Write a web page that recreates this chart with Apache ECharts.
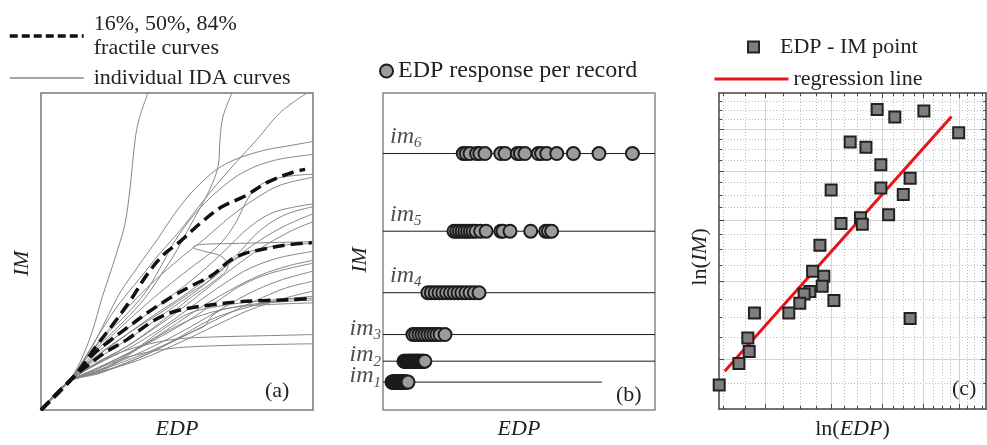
<!DOCTYPE html>
<html><head><meta charset="utf-8">
<script src="https://cdn.jsdelivr.net/npm/echarts@6/dist/echarts.min.js"></script>
<style>html,body{margin:0;padding:0;background:#fff}#c{width:987px;height:445px}</style>
</head><body><div id="c"></div><script>
const FONT = 'Liberation Serif';
const TXT = '#222';

// ---------- Panel (a): IDA curves (EDP and IM in arbitrary units 0-100)
const fractile16 = [[0,0],[12.5,10.9],[17.3,14.1],[23.5,18.1],[31.6,22.2],[40.1,27.5],[47.4,30.6],[54.8,32.2],[62.1,33.1],[72.0,34.1],[81.6,34.5],[91.5,34.8],[99.6,35.2]];
const fractile50 = [[0,0],[12.5,10.9],[18.7,17.2],[25.4,21.9],[31.6,25.9],[39.0,30.6],[48.5,35.9],[55.9,39.4],[62.9,42.5],[69.5,47.2],[75.0,49.4],[79.4,50.3],[89.0,51.9],[99.6,52.8]];
const fractile84 = [[0,0],[12.5,10.9],[19.9,19.7],[26.1,26.6],[32.7,34.4],[39.3,43.1],[45.2,49.1],[51.1,53.1],[58.4,58.8],[66.5,64.1],[75.0,67.5],[83.4,71.9],[92.6,75.0],[97.1,75.9]];
const idaCurves = [
 [[0,0],[9.9,8.75],[14.3,15.0],[18.7,24.4],[22.4,35.3],[25.4,43.1],[28.3,50.9],[30.9,58.8],[32.7,69.7],[34.6,85.3],[36.0,91.6],[39.3,100]],
 [[0,0],[9.9,8.75],[16.2,15.9],[23.5,22.2],[30.9,28.4],[38.2,35.3],[44.5,43.1],[49.3,49.4],[53.7,56.3],[57.3,61.9],[62.1,69.7],[65.1,76.9],[65.8,85.3],[66.9,92.5],[70.2,100]],
 [[0,0],[9.9,8.75],[16.2,16.6],[22.8,25.9],[29.0,33.8],[36.4,41.6],[43.7,49.4],[51.1,56.6],[57.3,63.4],[63.2,69.7],[72.0,78.4],[79.4,85.3],[87.9,93.8],[97.8,100]],
 [[0,0],[9.9,8.75],[15.1,15.0],[20.2,22.2],[24.6,29.7],[29.0,36.9],[35.7,45.3],[43.0,54.1],[50.4,63.4],[58.4,71.3],[67.6,77.5],[80.5,81.6],[91.5,83.4],[100,84.7]],
 [[0,0],[9.9,8.75],[16.2,15.9],[23.5,23.4],[30.9,29.7],[38.2,36.9],[43.7,44.7],[49.3,53.4],[56.6,61.9],[65.8,69.7],[75.0,75.3],[86.0,78.8],[100,80.6]],
 [[0,0],[9.9,8.75],[18.0,16.6],[27.2,24.4],[36.4,31.6],[45.6,38.4],[54.8,44.7],[62.1,49.4],[67.6,54.1],[72.0,59.7],[75.0,65.0],[78.7,69.7],[84.2,72.5],[91.5,73.8],[100,74.4]],
 [[0,0],[9.9,8.75],[17.3,17.2],[25.4,25.9],[33.5,33.8],[41.9,40.9],[51.1,47.8],[60.3,54.1],[69.5,60.9],[78.7,66.6],[87.9,70.9],[100,73.4]],
 [[0,0],[9.9,8.75],[18.0,15.9],[27.2,22.8],[38.2,29.7],[49.3,36.9],[58.4,43.1],[67.6,50.3],[76.8,57.8],[86.0,62.5],[100,65.0]],
 [[0,0],[9.9,8.75],[18.7,15.6],[29.0,22.2],[40.1,29.1],[51.1,35.3],[61.4,41.6],[71.3,48.4],[80.5,56.6],[89.7,61.6],[100,64.1]],
 [[0,0],[9.9,8.75],[18.7,15.0],[28.3,20.3],[38.2,25.9],[48.2,32.2],[58.4,38.4],[68.7,45.9],[78.7,52.5],[89.0,57.8],[100,61.9]],
 [[0,0],[9.9,8.75],[19.9,14.7],[30.9,19.7],[41.9,25.9],[51.1,31.6],[60.3,37.8],[69.5,44.1],[80.5,50.9],[91.5,56.3],[100,59.4]],
 [[0,0],[9.9,8.75],[19.9,14.4],[30.9,19.7],[43.7,27.5],[54.8,35.3],[64.0,40.9],[68.7,45.3],[66.5,48.4],[60.3,50.0],[55.9,51.3],[58.4,52.2],[69.5,52.5],[84.2,52.8],[100,53.1]],
 [[0,0],[9.9,8.75],[18.7,15.9],[27.2,21.3],[36.4,26.6],[45.6,31.6],[54.8,36.9],[62.1,40.9],[69.5,46.3],[76.8,50.0],[87.9,51.9],[100,52.5]],
 [[0,0],[9.9,8.75],[19.9,14.1],[32.7,19.7],[45.6,26.6],[56.6,33.4],[67.6,40.0],[76.8,44.7],[87.9,48.1],[100,50.0]],
 [[0,0],[9.9,8.75],[21.0,13.4],[34.6,19.1],[47.4,25.9],[58.4,32.2],[69.5,37.8],[80.5,42.5],[91.5,45.6],[100,47.2]],
 [[0,0],[9.9,8.75],[21.7,13.4],[36.4,19.7],[51.1,26.6],[64.0,33.8],[73.2,39.1],[84.2,43.1],[100,46.3]],
 [[0,0],[9.9,8.75],[21.7,12.8],[36.4,18.1],[51.1,24.4],[65.8,31.6],[76.8,36.9],[87.9,40.9],[100,43.8]],
 [[0,0],[9.9,8.75],[21.7,12.5],[36.4,17.2],[51.1,22.8],[65.8,29.1],[78.7,34.4],[89.7,38.4],[100,40.6]],
 [[0,0],[9.9,8.75],[21.7,11.9],[36.4,15.9],[51.1,21.3],[64.0,26.6],[76.8,31.6],[89.7,35.3],[100,37.5]],
 [[0,0],[9.9,8.75],[21.7,11.6],[36.4,16.6],[49.3,22.2],[62.1,28.4],[75.0,32.2],[87.9,34.7],[100,35.9]],
 [[0,0],[9.9,8.75],[22.4,12.8],[34.6,19.1],[45.6,25.9],[54.8,30.6],[65.8,32.8],[80.5,34.4],[100,35.3]],
 [[0,0],[9.9,8.75],[23.5,12.8],[36.4,19.7],[47.4,25.3],[58.4,29.7],[73.2,32.8],[87.9,34.1],[100,34.7]],
 [[0,0],[9.9,8.75],[21.7,11.9],[36.4,16.6],[49.3,21.9],[56.6,25.0],[60.3,26.6],[62.9,29.7],[67.6,31.9],[80.5,33.1],[100,33.8]],
 [[0,0],[9.9,8.75],[18.0,13.4],[29.0,18.1],[40.1,20.9],[51.1,22.5],[65.8,23.1],[80.5,23.4],[100,23.8]],
 [[0,0],[9.9,8.75],[18.0,11.9],[29.0,15.9],[40.1,18.4],[51.1,19.7],[65.8,20.3],[80.5,20.6],[100,20.9]]
];

// ---------- Panel (b): EDP response per record at each IM level (arbitrary units 0-100)
const imLevels = [8.8, 15.4, 23.8, 37.0, 56.4, 80.9];
const imLineEnd = [80.5, 100, 100, 100, 100, 100];
const imSub = ['1','2','3','4','5','6'];
const edpIm1 = [3.3,3.5,3.7,3.9,4.1,4.3,4.5,4.6,4.8,5.0,5.1,5.3,5.5,5.6,5.8,6.0,6.1,6.3,6.5,6.7,6.9,7.1,7.3,7.5,7.7,7.9,8.2,8.5,8.8,9.2];
const edpIm2 = [7.7,8.0,8.4,8.7,9.0,9.3,9.6,9.9,10.1,10.4,10.6,10.9,11.2,11.4,11.7,12.0,12.2,12.5,12.8,13.0,13.3,13.6,13.9,14.2,14.5,14.8,15.0,15.4];
const edpIm3 = [11.0,12.0,13.2,14.3,15.4,16.5,17.6,18.7,19.8,21.0,22.8];
const edpIm4 = [16.5,17.8,19.2,20.6,22.0,23.4,24.8,26.2,27.6,29.0,30.5,32.0,33.6,35.3];
const edpIm5 = [26.1,27.1,28.1,29.1,30.1,31.1,32.1,33.1,34.2,35.9,37.9,43.3,44.1,46.7,54.3,59.8,60.8,62.0];
const edpIm6 = [29.5,30.6,32.0,34.4,35.6,37.5,43.3,44.9,49.4,50.5,52.2,57.1,58.3,60.2,63.9,70.0,79.4,91.7];
const edpByLevel = [edpIm1, edpIm2, edpIm3, edpIm4, edpIm5, edpIm6];

// ---------- Panel (c): ln(EDP) - ln(IM) points and regression line
const lnEdp = [1.589,1.666,1.793,1.945,1.471,1.540,1.605,1.733,1.388,1.605,1.703,1.639,1.431,1.516,1.524,1.339,1.307,1.356,1.349,1.295,1.270,1.251,1.203,1.400,1.053,1.024,1.030,0.985,0.899,1.733];
const lnIm  = [2.019,1.991,2.013,1.933,1.899,1.880,1.815,1.766,1.722,1.730,1.706,1.631,1.599,1.620,1.596,1.519,1.423,1.405,1.368,1.349,1.340,1.306,1.270,1.316,1.270,1.178,1.128,1.084,1.005,1.249];
const regLnEdp = [0.923, 1.914];
const regLnIm  = [1.055, 1.993];
const gridMajor = [3, 4, 5, 6, 7];
const gridMinorX = [2.5,2.75,3.25,3.5,3.75,4.25,4.5,4.75,5.25,5.5,5.75,6.25,6.5,6.75,7.25,7.5,7.75];
const gridMinorY = [2.75,3.25,3.5,3.75,4.25,4.5,4.75,5.25,5.5,5.75,6.25,6.5,6.75,7.25,7.5,7.75];
const cEdpRange = [2.455, 7.88];
const cImRange = [2.5, 8];

const F_NAME = '16%, 50%, 84%\nfractile curves';
const IDA_NAME = 'individual IDA curves';
const L = Math.log;

const chart = echarts.init(document.getElementById('c'), null, {renderer: 'canvas'});

const nameStyle = (extra) => Object.assign({fontFamily: FONT, fontSize: 22, color: TXT, fontStyle: 'italic'}, extra || {});
const hiddenAxis = {axisLine: {show: false}, axisTick: {show: false}, axisLabel: {show: false}, splitLine: {show: false}};

const boxLine = {show: true, lineStyle: {color: '#444', width: 1.5}};
const tickStyle = {color: '#444', width: 1};
function cAxis(gi, pos, range, vals, len, main, split) {
  return {
    gridIndex: gi, type: 'value', position: pos, min: L(range[0]), max: L(range[1]),
    axisLine: main ? boxLine : {show: false},
    axisTick: {show: true, inside: true, length: len, customValues: vals.map(L), lineStyle: tickStyle},
    axisLabel: {show: false},
    splitLine: split ? {show: true, lineStyle: split} : {show: false}
  };
}
const majorSplit = {color: '#d4d4d4', width: 1};
const minorSplit = {color: '#bdbdbd', width: 1, type: [1, 2]};
const richLn = {n: {fontFamily: FONT, fontSize: 22, color: TXT}, i: {fontFamily: FONT, fontSize: 22, color: TXT, fontStyle: 'italic'}};

const xAxes = [
  Object.assign({gridIndex: 0, type: 'value', min: 0, max: 100, name: 'EDP', nameLocation: 'middle', nameGap: 8, nameTextStyle: nameStyle()}, hiddenAxis),
  Object.assign({gridIndex: 1, type: 'value', min: 0, max: 100, name: 'EDP', nameLocation: 'middle', nameGap: 8, nameTextStyle: nameStyle()}, hiddenAxis),
  Object.assign(cAxis(2, 'bottom', cEdpRange, gridMajor, 5, true, majorSplit), {
    name: '{n|ln(}{i|EDP}{n|)}', nameLocation: 'middle', nameGap: 9,
    nameTextStyle: {fontFamily: FONT, fontSize: 22, color: TXT, rich: richLn}
  }),
  cAxis(2, 'bottom', cEdpRange, gridMinorX, 3, false, minorSplit),
  cAxis(2, 'top', cEdpRange, gridMajor, 5, true, null),
  cAxis(2, 'top', cEdpRange, gridMinorX, 3, false, null)
];
const yAxes = [
  Object.assign({gridIndex: 0, type: 'value', min: 0, max: 100, name: 'IM', nameLocation: 'middle', nameGap: 8, nameTextStyle: nameStyle({padding: [0, 24, 0, 0]})}, hiddenAxis),
  Object.assign({gridIndex: 1, type: 'value', min: 0, max: 100, name: 'IM', nameLocation: 'middle', nameGap: 12, nameTextStyle: nameStyle({padding: [0, 17, 0, 0]})}, hiddenAxis),
  Object.assign(cAxis(2, 'left', cImRange, gridMajor, 5, true, majorSplit), {
    name: '{n|ln(}{i|IM}{n|)}', nameLocation: 'middle', nameGap: 8,
    nameTextStyle: {fontFamily: FONT, fontSize: 22, color: TXT, padding: [0, 12, 0, 0], rich: richLn}
  }),
  cAxis(2, 'left', cImRange, gridMinorY, 3, false, minorSplit),
  cAxis(2, 'right', cImRange, gridMajor, 5, true, null),
  cAxis(2, 'right', cImRange, gridMinorY, 3, false, null)
];

const series = [];
idaCurves.forEach(d => series.push({
  type: 'line', name: IDA_NAME, xAxisIndex: 0, yAxisIndex: 0, data: d, smooth: 0.35,
  symbol: 'none', lineStyle: {color: '#868686', width: 1}, itemStyle: {color: '#868686'}, z: 2
}));
[fractile16, fractile50, fractile84].forEach(d => series.push({
  type: 'line', name: F_NAME, xAxisIndex: 0, yAxisIndex: 0, data: d, smooth: 0.35,
  symbol: 'none', lineStyle: {color: '#111', width: 3.5, type: [12, 6]}, itemStyle: {color: '#111'}, z: 3
}));

imLevels.forEach((lv, i) => series.push({
  type: 'line', xAxisIndex: 1, yAxisIndex: 1, data: [[0, lv], [imLineEnd[i], lv]],
  symbol: 'none', lineStyle: {color: '#1a1a1a', width: 1}, silent: true, z: 2
}));
const dots = [];
edpByLevel.forEach((arr, i) => arr.forEach(v => dots.push([v, imLevels[i]])));
series.push({
  type: 'scatter', name: 'EDP response per record', xAxisIndex: 1, yAxisIndex: 1, data: dots,
  symbol: 'circle', symbolSize: 13,
  itemStyle: {color: '#9c9c9c', borderColor: '#1c1c1c', borderWidth: 2, opacity: 1}, z: 3
});
const imRich = {
  i: {fontFamily: FONT, fontSize: 24, fontStyle: 'italic', color: TXT, lineHeight: 28, verticalAlign: 'middle'},
  s: {fontFamily: FONT, fontSize: 15, fontStyle: 'italic', color: TXT, lineHeight: 15, verticalAlign: 'bottom'}
};
series.push({
  type: 'scatter', xAxisIndex: 1, yAxisIndex: 1, symbolSize: 0, clip: false, silent: true, z: 4,
  data: imLevels.map((lv, i) => ({
    value: [0, lv],
    label: {
      show: true, formatter: '{i|im}{s|' + imSub[i] + '}', rich: imRich,
      position: i < 3 ? 'left' : 'right', distance: i < 3 ? 2 : 7,
      offset: i < 3 ? [0, -6] : [0, -17]
    }
  }))
});

series.push({
  type: 'scatter', name: 'EDP - IM point', xAxisIndex: 2, yAxisIndex: 2,
  data: lnEdp.map((x, i) => [x, lnIm[i]]), symbol: 'rect', symbolSize: 11, clip: false,
  itemStyle: {color: '#7e7e7e', borderColor: '#222', borderWidth: 2, opacity: 1}, z: 4
});
series.push({
  type: 'line', name: 'regression line', xAxisIndex: 2, yAxisIndex: 2,
  data: regLnEdp.map((x, i) => [x, regLnIm[i]]), symbol: 'none',
  lineStyle: {color: '#e8141b', width: 3}, itemStyle: {color: '#e8141b'}, z: 3
});

const legText = {fontFamily: FONT, fontSize: 22, color: TXT, lineHeight: 24};
const panelLabel = (t, left, top) => ({text: t, left: left, top: top, padding: 0,
  textStyle: {fontFamily: FONT, fontSize: 22, fontWeight: 'normal', color: TXT}});
const noSym = {opacity: 0};

chart.setOption({
  animation: false,
  backgroundColor: '#fff',
  title: [panelLabel('(a)', 265, 380), panelLabel('(b)', 616, 384), panelLabel('(c)', 952, 378)],
  grid: [
    {left: 41, top: 93, width: 272, height: 320, show: true, borderColor: '#777', borderWidth: 1.5},
    {left: 383, top: 93, width: 272, height: 319, show: true, borderColor: '#888', borderWidth: 1.5},
    {left: 719, top: 93, width: 267, height: 320}
  ],
  legend: [
    {left: 8, top: 12, padding: 0, orient: 'vertical', itemGap: 6, itemWidth: 74, itemHeight: 14, selectedMode: false, textStyle: Object.assign({padding: [0, 0, 0, 5]}, legText),
     data: [{name: F_NAME, itemStyle: noSym, lineStyle: {type: [8, 4], width: 3.5, color: '#111'}},
            {name: IDA_NAME, itemStyle: noSym, lineStyle: {color: '#888', width: 1.5}}]},
    {left: 379, top: 59, padding: 0, itemWidth: 13, itemHeight: 13, selectedMode: false, textStyle: Object.assign({}, legText, {fontSize: 24}),
     data: [{name: 'EDP response per record', icon: 'circle', itemStyle: {color: '#9c9c9c', borderColor: '#1c1c1c', borderWidth: 2}}]},
    {left: 747, top: 35, padding: 0, itemWidth: 11, itemHeight: 11, selectedMode: false, textStyle: Object.assign({padding: [0, 0, 0, 16]}, legText),
     data: [{name: 'EDP - IM point', icon: 'rect', itemStyle: {color: '#7e7e7e', borderColor: '#222', borderWidth: 2}}]},
    {left: 713, top: 67, padding: 0, itemWidth: 74, itemHeight: 14, selectedMode: false, textStyle: legText,
     data: [{name: 'regression line', itemStyle: noSym, lineStyle: {color: '#e8141b', width: 3}}]}
  ],
  xAxis: xAxes,
  yAxis: yAxes,
  series: series
});
</script></body></html>
